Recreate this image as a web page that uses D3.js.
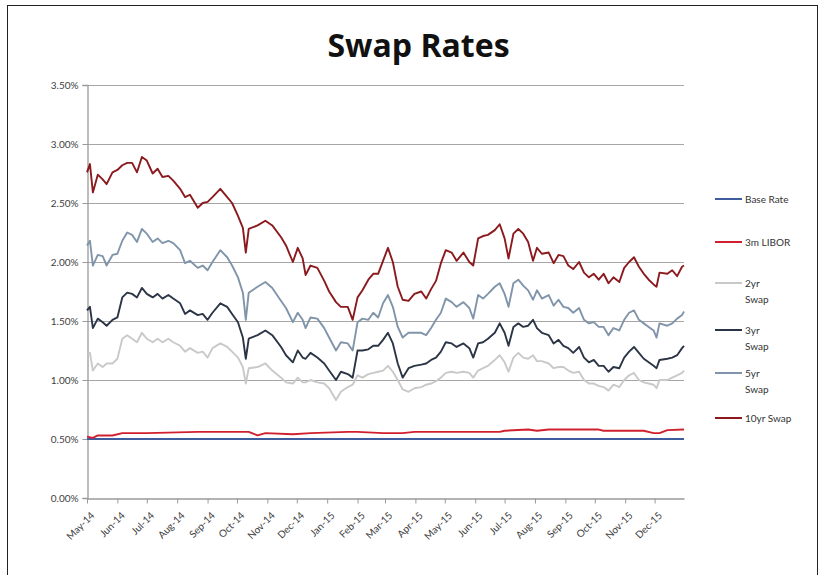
<!DOCTYPE html>
<html>
<head>
<meta charset="utf-8">
<script src="https://cdn.jsdelivr.net/npm/d3@7/dist/d3.min.js"></script>
<style>
  html, body { margin: 0; padding: 0; background: #fff; }
  svg { display: block; }
  text { font-family: Lato, "Open Sans", "DejaVu Sans", sans-serif; }
</style>
</head>
<body>
<svg id="chart" width="825" height="575"></svg>
<script>
// ---------- data ----------
const swapDates = [
  "2014-05-01","2014-05-04","2014-05-07","2014-05-12","2014-05-17","2014-05-21","2014-05-27","2014-06-01","2014-06-06","2014-06-11",
  "2014-06-16","2014-06-21","2014-06-26","2014-07-01","2014-07-07","2014-07-12","2014-07-17","2014-07-23","2014-07-28","2014-08-04",
  "2014-08-09","2014-08-14","2014-08-22","2014-08-27","2014-09-01","2014-09-06","2014-09-14","2014-09-21","2014-09-26","2014-10-02",
  "2014-10-07","2014-10-10","2014-10-13","2014-10-22","2014-10-30","2014-11-06","2014-11-15","2014-11-20","2014-11-27","2014-12-02",
  "2014-12-07","2014-12-10","2014-12-15","2014-12-22","2014-12-29","2015-01-03","2015-01-10","2015-01-15","2015-01-22","2015-01-27",
  "2015-02-01","2015-02-06","2015-02-12","2015-02-17","2015-02-22","2015-02-27","2015-03-04","2015-03-09","2015-03-14","2015-03-19",
  "2015-03-25","2015-03-31","2015-04-07","2015-04-12","2015-04-17","2015-04-22","2015-04-27","2015-05-02","2015-05-08","2015-05-13",
  "2015-05-20","2015-05-26","2015-05-30","2015-06-04","2015-06-09","2015-06-14","2015-06-21","2015-06-26","2015-07-01","2015-07-05",
  "2015-07-10","2015-07-15","2015-07-20","2015-07-25","2015-07-30","2015-08-03","2015-08-08","2015-08-15","2015-08-20","2015-08-25",
  "2015-08-30","2015-09-04","2015-09-09","2015-09-15","2015-09-20","2015-09-25","2015-09-30","2015-10-05","2015-10-10","2015-10-15",
  "2015-10-20","2015-10-26","2015-10-31","2015-11-05","2015-11-10","2015-11-15","2015-11-20","2015-11-25","2015-11-30","2015-12-03",
  "2015-12-06","2015-12-14","2015-12-19","2015-12-24","2015-12-29","2015-12-31"
];

const swap10yr = [
  2.76,2.83,2.59,2.74,2.70,2.66,2.76,2.78,2.82,2.84,
  2.84,2.76,2.89,2.86,2.75,2.79,2.72,2.73,2.69,2.62,
  2.55,2.57,2.46,2.50,2.51,2.55,2.62,2.55,2.50,2.39,
  2.29,2.08,2.28,2.31,2.35,2.31,2.21,2.14,2.00,2.12,
  2.03,1.89,1.97,1.95,1.84,1.75,1.66,1.62,1.62,1.51,
  1.70,1.76,1.85,1.90,1.90,2.01,2.12,2.00,1.79,1.68,
  1.67,1.73,1.75,1.69,1.77,1.84,1.99,2.10,2.08,2.01,
  2.08,2.00,1.97,2.20,2.22,2.23,2.27,2.32,2.20,2.03,
  2.24,2.28,2.24,2.17,2.01,2.12,2.07,2.08,1.99,2.06,
  2.05,1.97,1.94,2.00,1.91,1.87,1.90,1.85,1.90,1.82,
  1.87,1.83,1.95,2.00,2.04,1.96,1.90,1.85,1.81,1.79,
  1.91,1.90,1.93,1.88,1.96,1.97
];

const swap5yr = [
  2.14,2.18,1.97,2.06,2.05,1.97,2.06,2.07,2.18,2.25,
  2.23,2.17,2.28,2.24,2.17,2.20,2.16,2.18,2.16,2.10,
  1.99,2.01,1.95,1.97,1.93,2.00,2.10,2.04,1.97,1.87,
  1.74,1.51,1.74,1.79,1.83,1.78,1.67,1.61,1.49,1.57,
  1.51,1.44,1.53,1.52,1.44,1.36,1.25,1.32,1.31,1.25,
  1.49,1.52,1.51,1.57,1.53,1.65,1.72,1.62,1.45,1.36,
  1.40,1.40,1.40,1.38,1.44,1.51,1.57,1.69,1.66,1.62,
  1.66,1.61,1.52,1.72,1.69,1.73,1.79,1.82,1.73,1.62,
  1.82,1.85,1.80,1.76,1.68,1.76,1.69,1.72,1.63,1.68,
  1.62,1.61,1.57,1.61,1.51,1.48,1.49,1.45,1.45,1.38,
  1.44,1.42,1.51,1.57,1.59,1.51,1.48,1.45,1.42,1.36,
  1.48,1.46,1.48,1.52,1.55,1.58
];

const swap3yr = [
  1.59,1.62,1.44,1.52,1.49,1.46,1.51,1.53,1.70,1.74,
  1.73,1.70,1.78,1.73,1.70,1.73,1.69,1.72,1.69,1.65,
  1.56,1.59,1.55,1.56,1.51,1.57,1.65,1.62,1.56,1.49,
  1.36,1.18,1.35,1.38,1.42,1.38,1.28,1.21,1.15,1.25,
  1.19,1.18,1.23,1.19,1.14,1.08,1.00,1.07,1.05,1.02,
  1.25,1.25,1.26,1.29,1.29,1.34,1.40,1.31,1.14,1.02,
  1.10,1.12,1.13,1.14,1.17,1.19,1.24,1.32,1.31,1.28,
  1.31,1.27,1.19,1.31,1.32,1.35,1.40,1.48,1.40,1.29,
  1.45,1.48,1.45,1.46,1.51,1.44,1.40,1.38,1.31,1.34,
  1.29,1.27,1.23,1.28,1.19,1.15,1.17,1.12,1.12,1.07,
  1.11,1.10,1.19,1.24,1.28,1.23,1.18,1.15,1.12,1.10,
  1.17,1.18,1.19,1.21,1.27,1.29
];

const swap2yr = [
  1.21,1.23,1.08,1.14,1.11,1.14,1.14,1.18,1.35,1.38,
  1.35,1.32,1.40,1.35,1.32,1.35,1.32,1.35,1.32,1.29,
  1.24,1.27,1.23,1.24,1.19,1.27,1.31,1.28,1.24,1.19,
  1.11,0.97,1.10,1.11,1.14,1.08,1.02,0.98,0.97,1.02,
  0.98,0.98,1.00,0.98,0.97,0.93,0.83,0.90,0.94,0.96,
  1.04,1.02,1.05,1.06,1.07,1.08,1.12,1.07,1.00,0.92,
  0.90,0.93,0.94,0.96,0.97,0.99,1.02,1.06,1.07,1.06,
  1.07,1.06,1.02,1.08,1.10,1.12,1.17,1.21,1.15,1.07,
  1.19,1.23,1.19,1.18,1.21,1.16,1.16,1.14,1.10,1.11,
  1.11,1.08,1.06,1.07,1.00,0.97,0.97,0.95,0.94,0.91,
  0.96,0.94,1.00,1.04,1.06,1.00,0.98,0.97,0.96,0.93,
  1.00,1.00,1.02,1.04,1.06,1.08
];

const liborDates = [
  "2014-05-01","2014-05-07","2014-05-12","2014-05-27","2014-06-06","2014-07-01","2014-08-22","2014-09-26","2014-10-13","2014-10-22",
  "2014-10-30","2014-11-27","2014-12-15","2015-01-22","2015-02-01","2015-02-27","2015-03-19","2015-03-31","2015-06-26","2015-07-01",
  "2015-07-25","2015-08-03","2015-08-15","2015-10-05","2015-10-10","2015-11-20","2015-11-30","2015-12-06","2015-12-14","2015-12-31"
];
const libor3m = [
  0.52,0.51,0.53,0.53,0.55,0.55,0.56,0.56,0.56,0.53,
  0.55,0.54,0.55,0.56,0.56,0.55,0.55,0.56,0.56,0.57,
  0.58,0.57,0.58,0.58,0.57,0.57,0.55,0.55,0.575,0.58
];

const baseDates = ["2014-05-01","2015-12-31"];
const baseRate = [0.50, 0.50];

const yTicks = [0, 0.5, 1.0, 1.5, 2.0, 2.5, 3.0, 3.5];

const seriesNames  = ["Base Rate","3m LIBOR","2yr Swap","3yr Swap","5yr Swap","10yr Swap"];
const seriesColors = ["#3f5d9c","#d0202e","#c9c9c9","#2b3546","#8094aa","#8b1a1e"];

// ---------- build ----------
const parse = d3.timeParse("%Y-%m-%d");
const toPts = (ds, vs) => ds.map((d, i) => ({ date: parse(d), value: vs[i] }));

const series = [
  { name: seriesNames[0], color: seriesColors[0], pts: toPts(baseDates, baseRate) },
  { name: seriesNames[1], color: seriesColors[1], pts: toPts(liborDates, libor3m) },
  { name: seriesNames[2], color: seriesColors[2], pts: toPts(swapDates, swap2yr) },
  { name: seriesNames[3], color: seriesColors[3], pts: toPts(swapDates, swap3yr) },
  { name: seriesNames[4], color: seriesColors[4], pts: toPts(swapDates, swap5yr) },
  { name: seriesNames[5], color: seriesColors[5], pts: toPts(swapDates, swap10yr) }
];

const svg = d3.select("#chart");
const plot = { left: 87, right: 684, top: 85, bottom: 498 };

// outer frame
svg.append("rect")
  .attr("x", 7.5).attr("y", 5.5)
  .attr("width", 810).attr("height", 580)
  .attr("fill", "#fff").attr("stroke", "#222").attr("stroke-width", 1);

// title
svg.append("text")
  .attr("x", 418.5).attr("y", 57)
  .attr("text-anchor", "middle")
  .style("font-family", "'Open Sans', Lato, sans-serif")
  .style("font-size", "32px").style("font-weight", "bold").attr("fill", "#111")
  .text("Swap Rates");

const x = d3.scaleTime()
  .domain([parse("2014-05-01"), parse("2015-12-31")])
  .range([plot.left, plot.right]);
const y = d3.scaleLinear()
  .domain([0, 3.5])
  .range([plot.bottom, plot.top]);

// gridlines
svg.append("g").selectAll("line")
  .data(yTicks.filter(t => t > 0))
  .join("line")
  .attr("x1", plot.left).attr("x2", plot.right)
  .attr("y1", d => y(d) + 0.5).attr("y2", d => y(d) + 0.5)
  .attr("stroke", "#a6a6a6").attr("stroke-width", 1.2);

// y axis
const yAxis = svg.append("g")
  .attr("transform", `translate(${plot.left + 0.5},0)`)
  .call(d3.axisLeft(y).tickValues(yTicks).tickFormat(d => d3.format(".2f")(d) + "%").tickSize(5).tickPadding(4));
yAxis.select(".domain").attr("stroke", "#9a9a9a").attr("stroke-width", 1.3);
yAxis.selectAll(".tick line").attr("stroke", "#9a9a9a");
yAxis.selectAll("text").attr("fill", "#404040").style("font-size", "10px")
  .style("font-family", "Lato, 'Open Sans', sans-serif");

// x axis
const xAxis = svg.append("g")
  .attr("transform", `translate(0,${plot.bottom + 0.5})`)
  .call(d3.axisBottom(x).ticks(d3.timeMonth.every(1)).tickFormat(d3.timeFormat("%b-%y")).tickSize(5).tickSizeOuter(0));
xAxis.select(".domain").attr("stroke", "#9a9a9a").attr("stroke-width", 1.3);
xAxis.selectAll(".tick line").attr("stroke", "#9a9a9a");
xAxis.selectAll("text")
  .attr("fill", "#404040").style("font-size", "10px")
  .attr("text-anchor", "end")
  .attr("dx", "0").attr("dy", "0")
  .attr("transform", "translate(2,12) rotate(-45)");

// lines
const line = d3.line()
  .x(d => x(d.date))
  .y(d => y(d.value));

svg.append("g").selectAll("path")
  .data(series)
  .join("path")
  .attr("d", d => line(d.pts))
  .attr("fill", "none")
  .attr("stroke", d => d.color)
  .attr("stroke-width", 1.9)
  .attr("stroke-linejoin", "round");

// legend
const legendRows = [
  { lines: ["Base Rate"], y: 199 },
  { lines: ["3m LIBOR"], y: 242 },
  { lines: ["2yr", "Swap"], y: 283 },
  { lines: ["3yr", "Swap"], y: 330 },
  { lines: ["5yr", "Swap"], y: 373 },
  { lines: ["10yr Swap"], y: 418 }
];
const lg = svg.append("g");
legendRows.forEach((r, i) => {
  lg.append("line")
    .attr("x1", 715).attr("x2", 742)
    .attr("y1", r.y).attr("y2", r.y)
    .attr("stroke", series[i].color).attr("stroke-width", 2);
  const t = lg.append("text")
    .attr("x", 745).attr("y", r.y + 3.5)
    .attr("fill", "#333").style("font-size", "10px");
  r.lines.forEach((s, j) => {
    t.append("tspan").attr("x", 745).attr("dy", j === 0 ? 0 : 16).text(s);
  });
});
</script>
</body>
</html>
